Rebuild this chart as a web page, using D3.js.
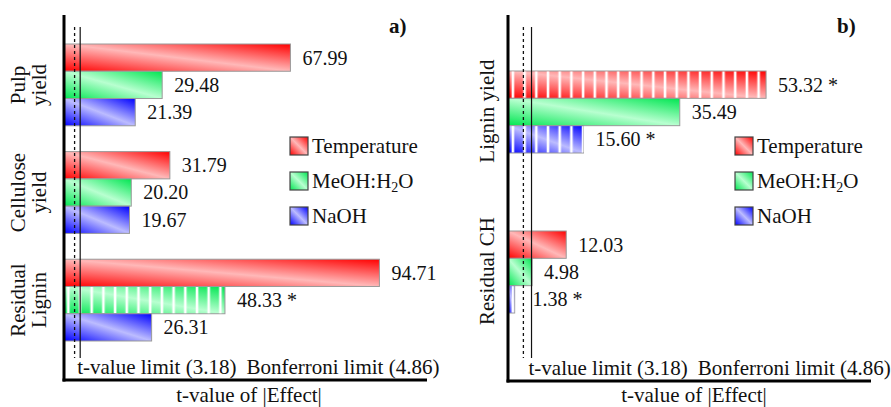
<!DOCTYPE html>
<html>
<head>
<meta charset="utf-8">
<script src="https://cdn.jsdelivr.net/npm/d3@7"></script>
<style>
    body { margin: 0; background: #fff; }
    svg { display: block; }
    text { font-family: "Liberation Serif", "Times New Roman", serif; fill: #111; }
</style>
</head>
<body>
<div id="chart"></div>
<script>
// ---- data ----
const seriesNames = ["Temperature", "MeOH:H2O", "NaOH"];

const panelACategories = [["Pulp", "yield"], ["Cellulose", "yield"], ["Residual", "Lignin"]];
const panelAValues = [
    [67.99, 29.48, 21.39],
    [31.79, 20.20, 19.67],
    [94.71, 48.33, 26.31]
];
const panelASignificant = [
    [false, false, false],
    [false, false, false],
    [false, true, false]
];

const panelBCategories = [["Lignin yield"], ["Residual CH"]];
const panelBValues = [
    [53.32, 35.49, 15.60],
    [12.03, 4.98, 1.38]
];
const panelBSignificant = [
    [true, false, true],
    [false, false, true]
];

const tValueLimit = 3.18;
const bonferroniLimit = 4.86;
const xTitle = "t-value of |Effect|";

// ---- drawing ----
const width = 891, height = 407;
const colors = ["#ff0000", "#00e651", "#0000ff"];
const lightColors = ["#ffb8b8", "#b8ffd0", "#bcbcff"];

const svg = d3.select("#chart").append("svg")
    .attr("width", width)
    .attr("height", height);

const defs = svg.append("defs");
colors.forEach((c, i) => {
    let grad = defs.append("linearGradient")
        .attr("id", `grad${i}`)
        .attr("x1", 0).attr("y1", 1)
        .attr("x2", 1).attr("y2", 0);
    grad.append("stop").attr("offset", "0%").attr("stop-color", c);
    grad.append("stop").attr("offset", "50%").attr("stop-color", lightColors[i]);
    grad.append("stop").attr("offset", "100%").attr("stop-color", c);
});

//白色直條紋，標記 * 的 bar 用
let stripes = defs.append("pattern")
    .attr("id", "stripes")
    .attr("patternUnits", "userSpaceOnUse")
    .attr("width", 11.7)
    .attr("height", 20);
stripes.append("rect")
    .attr("x", 8.5)
    .attr("width", 2.6)
    .attr("height", 20)
    .attr("fill", "#fff");

function drawPanel(opt)
{
    const g = svg.append("g");

    const x = d3.scaleLinear()
        .domain([0, opt.xMax])
        .range([opt.left, opt.right]);

    const y = d3.scaleBand()
        .domain(opt.categories.map((d, i) => i))
        .range([opt.barTop, opt.barBottom])
        .paddingInner(opt.padding)
        .paddingOuter(0);

    const ySeries = d3.scaleBand()
        .domain(seriesNames)
        .range([0, y.bandwidth()]);

    opt.values.forEach((row, ci) => {
        let group = g.append("g")
            .attr("transform", `translate(0, ${y(ci)})`);

        row.forEach((v, si) => {
            const name = seriesNames[si];
            const sig = opt.significant[ci][si];

            group.append("rect")
                .attr("x", x(0))
                .attr("y", ySeries(name))
                .attr("width", x(v) - x(0))
                .attr("height", ySeries.bandwidth())
                .attr("fill", `url(#grad${si})`)
                .attr("stroke", "#9a9a9a")
                .attr("stroke-width", 1);

            if (sig)
            {
                group.append("rect")
                    .attr("x", x(0))
                    .attr("y", ySeries(name) + 0.5)
                    .attr("width", x(v) - x(0))
                    .attr("height", ySeries.bandwidth() - 1)
                    .attr("fill", "url(#stripes)");
            }

            //標籤不要壓到 Bonferroni 線
            let labelX = Math.max(x(v) + 12, x(bonferroniLimit) + 1);
            group.append("text")
                .attr("x", labelX)
                .attr("y", ySeries(name) + ySeries.bandwidth() / 2 + 7)
                .style("font-size", "20px")
                .text(sig ? `${v.toFixed(2)} *` : v.toFixed(2));
        });

        // category label, rotated
        let label = g.append("text")
            .attr("transform", `translate(0, ${y(ci) + y.bandwidth() / 2 + opt.labelShift}) rotate(-90)`)
            .attr("text-anchor", "middle")
            .style("font-size", "21px");
        opt.categories[ci].forEach((line, li) => {
            label.append("tspan")
                .attr("x", 0)
                .attr("y", opt.labelX[li])
                .text(line);
        });
    });

    // limit lines
    g.append("line")
        .attr("x1", x(tValueLimit)).attr("x2", x(tValueLimit))
        .attr("y1", opt.limitTop).attr("y2", opt.limitBottom)
        .attr("stroke", "#111")
        .attr("stroke-width", 1.3)
        .attr("stroke-dasharray", "3,3");

    g.append("line")
        .attr("x1", x(bonferroniLimit)).attr("x2", x(bonferroniLimit))
        .attr("y1", opt.limitTop).attr("y2", opt.limitBottom)
        .attr("stroke", "#111")
        .attr("stroke-width", 1.2);

    let tText = g.append("text")
        .attr("x", x(bonferroniLimit) - 3)
        .attr("y", opt.limitTextY)
        .style("font-size", "21px")
        .text(`t-value limit (${tValueLimit})`);

    let tWidth = tText.node().getComputedTextLength();
    g.append("text")
        .attr("x", x(bonferroniLimit) - 3 + tWidth + 10)
        .attr("y", opt.limitTextY)
        .style("font-size", "21px")
        .text(`Bonferroni limit (${bonferroniLimit})`);

    // axes (no ticks)
    g.append("line")
        .attr("x1", opt.left).attr("x2", opt.left)
        .attr("y1", 15).attr("y2", opt.axisY + 1.5)
        .attr("stroke", "#000")
        .attr("stroke-width", 3);

    g.append("line")
        .attr("x1", opt.left - 1.5).attr("x2", x(opt.xMax))
        .attr("y1", opt.axisY).attr("y2", opt.axisY)
        .attr("stroke", "#000")
        .attr("stroke-width", 3);

    g.append("text")
        .attr("x", opt.titleX)
        .attr("y", 402)
        .attr("text-anchor", "middle")
        .style("font-size", "21px")
        .text(xTitle);

    // panel letter
    g.append("text")
        .attr("x", opt.letterX)
        .attr("y", 33)
        .style("font-size", "21px")
        .style("font-weight", "bold")
        .text(opt.letter);

    // legend
    let legend = g.append("g")
        .attr("transform", `translate(${opt.legendX}, 137)`);
    seriesNames.forEach((name, i) => {
        let row = legend.append("g")
            .attr("transform", `translate(0, ${i * 35})`);
        row.append("rect")
            .attr("width", 18)
            .attr("height", 18)
            .attr("fill", `url(#grad${i})`)
            .attr("stroke", "#444")
            .attr("stroke-width", 1.2);
        let t = row.append("text")
            .attr("x", 22)
            .attr("y", 16)
            .style("font-size", "21px");
        if (name === "MeOH:H2O")
        {
            t.append("tspan").text("MeOH:H");
            t.append("tspan").attr("dy", 4).style("font-size", "14px").text("2");
            t.append("tspan").attr("dy", -4).text("O");
        }
        else
            t.text(name);
    });
}

drawPanel({
    categories: panelACategories,
    values: panelAValues,
    significant: panelASignificant,
    xMax: 109,
    left: 64,
    right: 427,
    barTop: 44,
    barBottom: 341,
    padding: 0.24,
    labelX: [25, 46],
    labelShift: 0,
    limitTop: 27,
    limitBottom: 358,
    limitTextY: 374,
    axisY: 380,
    titleX: 249,
    letter: "a)",
    letterX: 389,
    legendX: 290
});

drawPanel({
    categories: panelBCategories,
    values: panelBValues,
    significant: panelBSignificant,
    xMax: 75,
    left: 508,
    right: 871,
    barTop: 71,
    barBottom: 313,
    padding: 0.4875,
    labelX: [494],
    labelShift: -1,
    limitTop: 27,
    limitBottom: 358,
    limitTextY: 375,
    axisY: 381,
    titleX: 694,
    letter: "b)",
    letterX: 837,
    legendX: 735
});
</script>
</body>
</html>
